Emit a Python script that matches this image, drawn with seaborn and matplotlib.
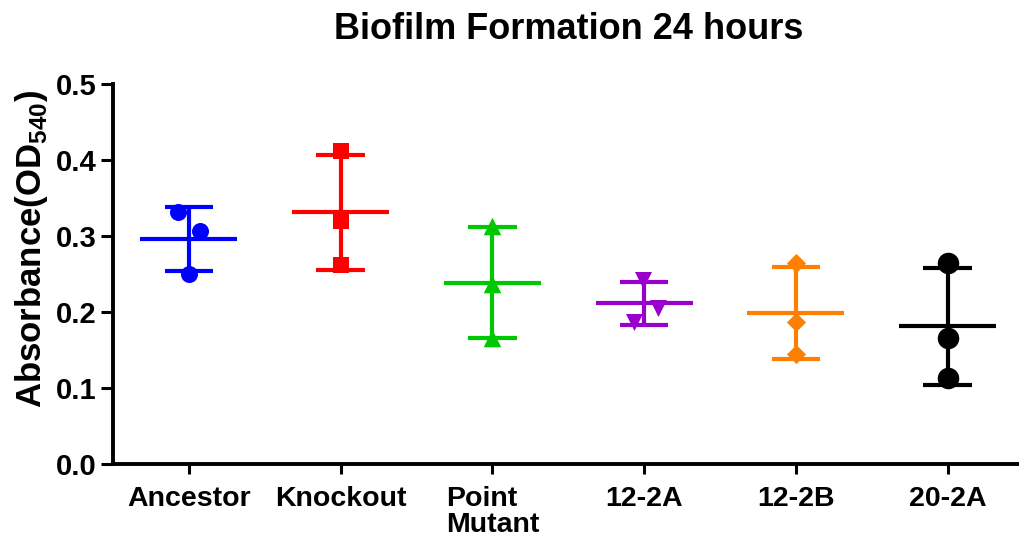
import numpy as np
import pandas as pd
import matplotlib
matplotlib.use("Agg")
import matplotlib.pyplot as plt
import seaborn as sns

categories = ["Ancestor", "Knockout", "Point\nMutant", "12-2A", "12-2B", "20-2A"]
ancestor = [0.332, 0.307, 0.250]
knockout = [0.412, 0.320, 0.262]
point_mutant = [0.313, 0.237, 0.166]
a12_2a = [0.242, 0.205, 0.187]
b12_2b = [0.264, 0.187, 0.145]
a20_2a = [0.264, 0.166, 0.113]
jitter = [[-0.07, 0.07, 0.0], [0, 0, 0], [0, 0, 0], [-0.01, 0.09, -0.07], [0, 0, 0], [0, 0, 0]]
colors = ["#0000FF", "#FF0000", "#00C800", "#9A00CC", "#FF8000", "#000000"]
markers = ["o", "s", "^", "v", "D", "o"]
msizes = [150, 130, 160, 150, 95, 240]
yticks = [0.0, 0.1, 0.2, 0.3, 0.4, 0.5]

series = [ancestor, knockout, point_mutant, a12_2a, b12_2b, a20_2a]

sns.set_style("ticks")
plt.rcParams['font.family'] = ['Liberation Sans', 'DejaVu Sans']
plt.rcParams['mathtext.fontset'] = 'custom'
plt.rcParams['mathtext.rm'] = 'Liberation Sans:bold'
plt.rcParams['mathtext.bf'] = 'Liberation Sans:bold'
for k in ['text.color', 'axes.labelcolor', 'xtick.color', 'ytick.color', 'axes.edgecolor']:
    plt.rcParams[k] = 'black'

fig = plt.figure(figsize=(10.19, 5.44), dpi=100)
ax = fig.add_axes([113/1019, 80/544, 1 - 113/1019, 380/544])

rows = []
for i, (vals, jit) in enumerate(zip(series, jitter)):
    for v, j in zip(vals, jit):
        rows.append({"x": i + j, "y": v, "grp": categories[i]})
df = pd.DataFrame(rows)

for i, vals in enumerate(series):
    sub = df[df.grp == categories[i]]
    sns.scatterplot(data=sub, x="x", y="y", ax=ax, color=colors[i], marker=markers[i],
                    s=msizes[i], edgecolor=colors[i], linewidth=0, zorder=3, legend=False)
    m = np.mean(vals)
    sd = np.std(vals, ddof=1)
    ax.hlines(m, i - 0.32, i + 0.32, color=colors[i], lw=3, zorder=2)
    ax.hlines([m - sd, m + sd], i - 0.16, i + 0.16, color=colors[i], lw=3, zorder=2)
    ax.vlines(i, m - sd, m + sd, color=colors[i], lw=3, zorder=2)

ax.set_xlim(-0.5, 5.47)
ax.set_ylim(0, 0.5)
ax.set_yticks(yticks)
ax.set_yticklabels([f"{t:.1f}" for t in yticks])
ax.set_xticks(range(len(categories)))
ax.set_xticklabels(categories, fontsize=20.5, fontweight='bold', multialignment='left',
                   linespacing=1.0)
for lab in ax.get_yticklabels():
    lab.set_fontsize(21)
    lab.set_fontweight('bold')
ax.tick_params(axis='both', width=2.2, length=9, direction='out')
ax.tick_params(axis='x', length=7, pad=9)
ax.tick_params(axis='y', pad=3)
for side in ['left', 'bottom']:
    ax.spines[side].set_linewidth(2.8)
sns.despine(ax=ax)
ax.set_xlabel("")
ax.set_ylabel(r"Absorbance(OD$_{540}$)", fontsize=25, fontweight='bold')
ax.yaxis.set_label_coords(-0.07, 0.566)
fig.suptitle("Biofilm Formation 24 hours", fontsize=26, fontweight='bold', x=0.558, y=0.978)

fig.savefig("out.png", dpi=100)
